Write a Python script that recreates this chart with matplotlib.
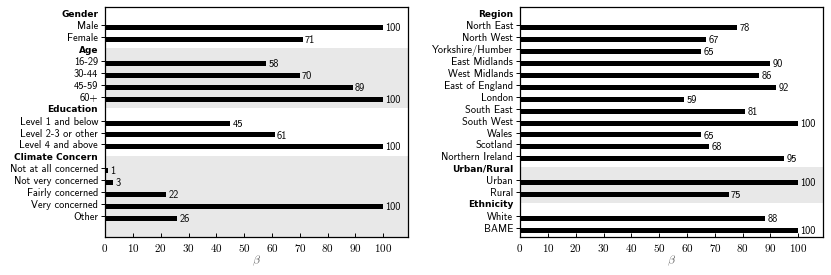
import numpy as np
import matplotlib.pyplot as plt

plt.rcParams['axes.formatter.use_mathtext'] = True
plt.rcParams['mathtext.fontset'] = 'cm'

# left panel data
left_groups = ['Gender', 'Age', 'Education', 'Climate Concern']
left_labels = [['Male', 'Female'],
               ['16-29', '30-44', '45-59', '60+'],
               ['Level 1 and below', 'Level 2-3 or other', 'Level 4 and above'],
               ['Not at all concerned', 'Not very concerned', 'Fairly concerned',
                'Very concerned', 'Other']]
left_values = [[100, 71],
               [58, 70, 89, 100],
               [45, 61, 100],
               [1, 3, 22, 100, 26]]

# right panel data
right_groups = ['Region', 'Urban/Rural', 'Ethnicity']
right_labels = [['North East', 'North West', 'Yorkshire/Humber', 'East Midlands',
                 'West Midlands', 'East of England', 'London', 'South East',
                 'South West', 'Wales', 'Scotland', 'Northern Ireland'],
                ['Urban', 'Rural'],
                ['White', 'BAME']]
right_values = [[78, 67, 65, 90, 86, 92, 59, 81, 100, 65, 68, 95],
                [100, 75],
                [88, 100]]

XMAX = 109
YTOP, YBOT = -0.72, 18.55
LAB = 'cmss10'
BOLD = 'DejaVu Sans'


def draw(ax, groups, labels, values):
    ticks, ticklabels, headers = [], [], []
    row = 0
    for g, (grp, labs, vals) in enumerate(zip(groups, labels, values)):
        start = row
        ticks.append(row - 0.2)
        ticklabels.append(grp)
        headers.append(len(ticks) - 1)
        row += 1
        for lab, v in zip(labs, vals):
            ax.barh(row, v, height=0.42, color='black', zorder=3)
            ax.text(v + 0.8, row + 0.05, str(v), va='center', ha='left',
                    fontsize=7.5, family=LAB, zorder=4)
            ticks.append(row - 0.2)
            ticklabels.append(lab)
            row += 1
        if g % 2 == 1:
            end = row - 0.27 if g < len(groups) - 1 else YBOT
            ax.axhspan(start - 0.27, end, color='#e8e8e8', lw=0, zorder=1)
    ax.set_yticks(ticks)
    ax.set_yticklabels(ticklabels)
    for k, (t, tl) in enumerate(zip(ax.yaxis.get_major_ticks(), ax.get_yticklabels())):
        if k in headers:
            t.tick1line.set_visible(False)
            tl.set_fontfamily(BOLD)
            tl.set_fontweight('bold')
            tl.set_fontsize(6.5)
        else:
            tl.set_fontfamily(LAB)
            tl.set_fontsize(7.5)
    ax.set_xlim(0, XMAX)
    ax.set_ylim(YBOT, YTOP)
    ax.set_xticks(np.arange(0, 101, 10))
    ax.tick_params(axis='y', length=3, width=0.7, pad=2)
    ax.tick_params(axis='x', direction='in', length=3, width=0.7, pad=4,
                   labelfontfamily='cmr10', labelsize=8)
    ax.set_xlabel(r'$\beta$', fontsize=8.5, color='#666666', labelpad=-0.5)
    for s in ax.spines.values():
        s.set_linewidth(0.9)
        s.set_zorder(5)


fig = plt.figure(figsize=(8.31, 2.75), dpi=100)
ax1 = fig.add_axes([0.1264, 0.1393, 0.365, 0.834])
ax2 = fig.add_axes([0.6258, 0.1393, 0.365, 0.834])
draw(ax1, left_groups, left_labels, left_values)
draw(ax2, right_groups, right_labels, right_values)

fig.savefig('out.png', dpi=100)
